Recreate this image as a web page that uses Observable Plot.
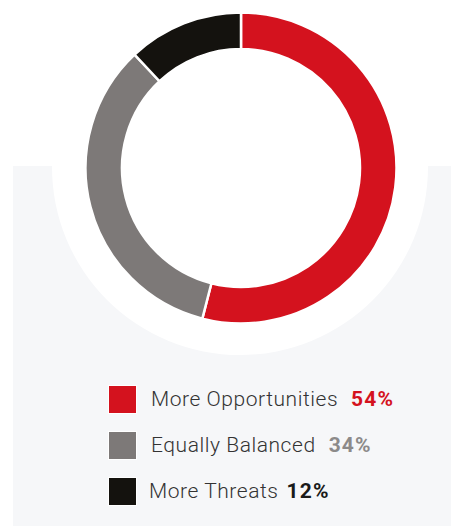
<!DOCTYPE html>
<html>
<head>
<meta charset="utf-8">
<script src="https://cdn.jsdelivr.net/npm/d3@7"></script>
<script src="https://cdn.jsdelivr.net/npm/@observablehq/plot@0.6"></script>
<style>
  html, body { margin: 0; padding: 0; background: #fff; }
  #wrap { position: relative; width: 451px; height: 526px; overflow: hidden; background: #fff; }
  #panel { position: absolute; left: 13px; top: 166px; right: 0; bottom: 0; background: #f6f7f9; }
  #halo { position: absolute; left: 52px; top: -21px; width: 376px; height: 376px; border-radius: 50%; background: #fff; }
  #chart { position: absolute; left: 0; top: 0; }
  #legend { position: absolute; left: 108px; top: 385px; font-family: Roboto, "Liberation Sans", sans-serif; }
  .row { position: relative; height: 46px; }
  .sw { position: absolute; left: 0; top: 0; width: 29px; height: 29px; box-sizing: border-box; border: 1px solid #fff; }
  .lab { position: absolute; top: 2px; white-space: nowrap; font-size: 21px; font-weight: 300; letter-spacing: 0.55px; color: #333; line-height: 24px; }
  .pct { font-weight: 700; letter-spacing: 1.2px; }
</style>
</head>
<body>
<div id="wrap">
  <div id="panel"></div>
  <div id="halo"></div>
  <div id="chart"></div>
  <div id="legend"></div>
</div>
<script>
const categories = ["More Opportunities", "Equally Balanced", "More Threats"];
const values = [54, 34, 12];
const sliceColors = ["#d4121e", "#7d7978", "#14120e"];
const valueColors = ["#d4121e", "#8c8a8a", "#1a1a1a"];
const labelOffsets = [43, 43, 41];
const valueGaps = [13, 13, 8];

const ends = Array.from(d3.cumsum(values));
const table = categories.map((c, i) => ({category: c, value: values[i], start: ends[i] - values[i], end: ends[i]}));

class Arc extends Plot.Mark {
  constructor(data, options = {}) {
    const {x1, x2, fill, cx = 0, cy = 0, innerRadius = 0, outerRadius = 100} = options;
    super(data, {
      x1: {value: x1, scale: "x"},
      x2: {value: x2, scale: "x"},
      fill: {value: fill, scale: "color"}
    }, options);
    this.cx = cx; this.cy = cy;
    this.innerRadius = innerRadius; this.outerRadius = outerRadius;
  }
  render(index, scales, channels, dimensions, context) {
    const {x1: X1, x2: X2, fill: F} = channels;
    const arc = d3.arc().innerRadius(this.innerRadius).outerRadius(this.outerRadius);
    const g = d3.create("svg:g").attr("transform", `translate(${this.cx},${this.cy})`);
    g.selectAll("path").data(index).join("path")
      .attr("d", i => arc({startAngle: X1[i], endAngle: X2[i]}))
      .attr("fill", i => F[i])
      .attr("stroke", "#fff")
      .attr("stroke-width", 2.5)
      .attr("stroke-linejoin", "miter");
    return g.node();
  }
}

const plot = Plot.plot({
  width: 451,
  height: 340,
  margin: 0,
  style: {background: "transparent"},
  x: {domain: [0, 100], range: [0, 2 * Math.PI], axis: null},
  color: {domain: categories, range: sliceColors},
  marks: [
    new Arc(table, {x1: "start", x2: "end", fill: "category", cx: 241, cy: 168, innerRadius: 119, outerRadius: 155.5})
  ]
});
document.getElementById("chart").append(plot);

const legend = d3.select("#legend");
const rows = legend.selectAll("div.row").data(table).join("div").attr("class", "row");
rows.append("div").attr("class", "sw").style("background", (d, i) => sliceColors[i]);
const labs = rows.append("div").attr("class", "lab").style("left", (d, i) => labelOffsets[i] + "px");
labs.append("span").text(d => d.category);
labs.append("span").attr("class", "pct")
  .style("margin-left", (d, i) => valueGaps[i] + "px")
  .style("color", (d, i) => valueColors[i])
  .text(d => d.value + "%");
</script>
</body>
</html>
